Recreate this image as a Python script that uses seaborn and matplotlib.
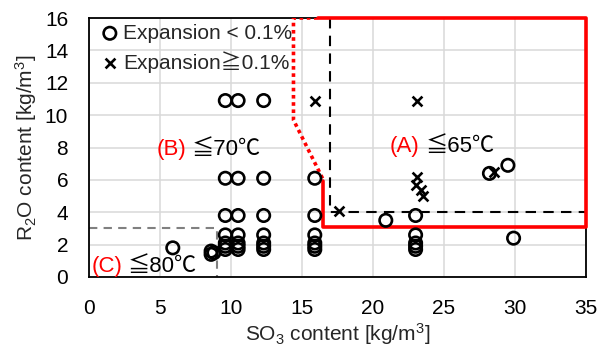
import matplotlib
matplotlib.use("Agg")
import matplotlib.pyplot as plt
import seaborn as sns
import pandas as pd

# Test results: SO3 content vs R2O content [kg/m3]
ok_so3 = [5.9, 8.6, 8.6, 8.8,
          9.6, 9.6, 9.6, 9.6, 9.6, 9.6, 9.6,
          10.5, 10.5, 10.5, 10.5, 10.5, 10.5, 10.5,
          12.3, 12.3, 12.3, 12.3, 12.3, 12.3, 12.3,
          15.9, 15.9, 15.9, 15.9, 15.9, 15.9,
          20.9,
          23.0, 23.0, 23.0, 23.0, 23.0,
          28.2, 29.5, 29.9]
ok_r2o = [1.8, 1.6, 1.4, 1.5,
          10.9, 6.1, 3.8, 2.6, 2.1, 1.9, 1.7,
          10.9, 6.1, 3.8, 2.6, 2.1, 1.9, 1.7,
          10.9, 6.1, 3.8, 2.6, 2.1, 1.9, 1.7,
          6.1, 3.8, 2.6, 2.1, 1.9, 1.7,
          3.5,
          3.8, 2.6, 2.1, 1.9, 1.7,
          6.4, 6.9, 2.4]

ng_so3 = [15.9, 23.1, 17.6, 23.1, 23.0, 23.4, 23.5, 28.5]
ng_r2o = [10.9, 10.9, 4.1, 6.2, 5.7, 5.4, 5.0, 6.5]

# Region boundaries
a_solid_x = [16.1, 35, 35, 16.5, 16.5]
a_solid_y = [16, 16, 3.1, 3.1, 5.9]
b_dot_x = [16.1, 14.4, 14.4, 16.5]
b_dot_y = [16, 16, 9.7, 6.0]
lim_x = [17.0, 17.0, 35]
lim_y = [16, 4.0, 4.0]
c_x = [0, 9.0, 9.0]
c_y = [3.0, 3.0, 0]

x_ticks = [0, 5, 10, 15, 20, 25, 30, 35]
y_ticks = [0, 2, 4, 6, 8, 10, 12, 14, 16]

sns.set_theme(style="white")
plt.rcParams["font.family"] = ["Liberation Sans", "Noto Sans CJK JP", "DejaVu Sans"]
plt.rcParams["mathtext.fontset"] = "custom"
plt.rcParams["mathtext.rm"] = "Liberation Sans"
plt.rcParams["mathtext.it"] = "Liberation Sans:italic"

fig = plt.figure(figsize=(5.98, 3.47), dpi=100)
ax = fig.add_axes([89 / 598, 70 / 347, 497 / 598, 259 / 347])

ax.set_xlim(0, 35)
ax.set_ylim(0, 16)
ax.set_xticks(x_ticks)
ax.set_yticks(y_ticks)
ax.grid(True, color="#d9d9d9", linewidth=1.1, zorder=0)
ax.set_axisbelow(True)
for s in ax.spines.values():
    s.set_color("black")
    s.set_linewidth(1.3)
ax.tick_params(axis="both", length=0, labelsize=15, colors="black")
ax.tick_params(axis="x", pad=16)
ax.tick_params(axis="y", pad=15)

# Region lines
ax.plot(c_x, c_y, color="#808080", lw=1.5, ls=(0, (4, 3)), zorder=2)
ax.plot(lim_x, lim_y, color="black", lw=1.5, ls=(0, (5, 3.5)), zorder=2)
ax.plot(b_dot_x, b_dot_y, color="#ff0000", lw=2.6, ls=(0, (1, 1)), zorder=3,
        solid_capstyle="butt", dash_capstyle="butt")
ax.plot(a_solid_x, a_solid_y, color="#ff0000", lw=2.6, zorder=3, clip_on=False)

df_ok = pd.DataFrame({"so3": ok_so3, "r2o": ok_r2o})
df_ng = pd.DataFrame({"so3": ng_so3, "r2o": ng_r2o})
sns.scatterplot(data=df_ok, x="so3", y="r2o", ax=ax, marker="o", s=80,
                facecolors="none", edgecolor="black", linewidth=1.9,
                label="Expansion < 0.1%", zorder=4)
sns.scatterplot(data=df_ng, x="so3", y="r2o", ax=ax, marker="x", s=50,
                color="black", linewidth=1.9, label="Expansion\u22670.1%", zorder=4)

leg = ax.legend(loc="upper left", frameon=False, fontsize=15, handletextpad=0.05,
                borderaxespad=0.0, labelspacing=0.4, handlelength=1.2,
                bbox_to_anchor=(0.0, 1.01))

ax.set_xlabel("SO$_3$ content [kg/m$^3$]", fontsize=15, labelpad=2)
ax.set_ylabel("R$_2$O content [kg/m$^3$]", fontsize=15, labelpad=4)


def region_label(x, y, tag, temp):
    t = ax.text(x, y, tag, color="#ff0000", fontsize=16, ha="left", va="center", zorder=5)
    ax.annotate(temp, xy=(1, 0.5), xycoords=t, xytext=(4, 0), textcoords="offset points",
                fontsize=16, color="black", ha="left", va="center", zorder=5)


region_label(4.75, 7.9, "(B)", "\u226670\u2103")
region_label(21.2, 8.05, "(A)", "\u226665\u2103")
region_label(0.15, 0.62, "(C)", "\u226680\u2103")

fig.savefig("out.png", dpi=100)
